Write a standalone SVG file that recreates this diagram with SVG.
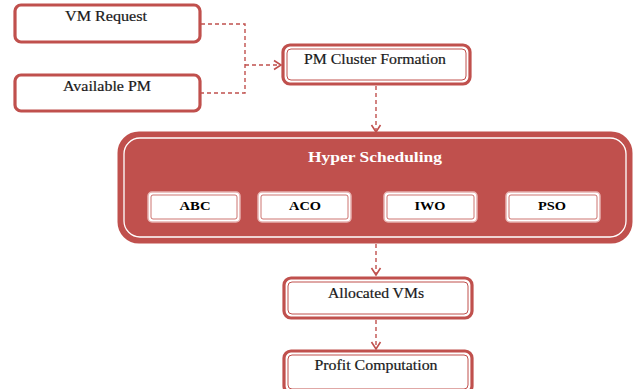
<svg xmlns="http://www.w3.org/2000/svg" width="637" height="389" viewBox="0 0 637 389">
<style>
.box{fill:#fff;stroke:#c0504d;stroke-width:3.2}
.inner{fill:none;stroke:#c0504d;stroke-width:1}
.lbl{font-family:"Liberation Serif","Times New Roman",serif;font-weight:normal;font-size:14px;fill:#1a1a1a;stroke:#1a1a1a;stroke-width:0.2;text-anchor:middle}
.slbl{font-family:"Liberation Serif","Times New Roman",serif;font-weight:bold;font-size:12.5px;fill:#000;text-anchor:middle}
.sub{fill:#fff;stroke:#e6b0ae;stroke-width:1.5}
.subin{fill:none;stroke:#c0504d;stroke-width:0.8}
.conn{fill:none;stroke:#c0504d;stroke-width:1.4;stroke-dasharray:4 3}
</style>
<defs>
<marker id="arr" markerWidth="12" markerHeight="12" refX="9" refY="6" orient="auto" markerUnits="userSpaceOnUse">
<polyline points="2,1.5 9,6 2,10.5" fill="none" stroke="#c0504d" stroke-width="1.6"/>
</marker>
</defs>
<g id="connectors">
<polyline class="conn" points="201,24 245,24 245,93 201,93"/>
<line class="conn" x1="245" y1="65" x2="281" y2="65" marker-end="url(#arr)"/>
<line class="conn" x1="376" y1="86" x2="376" y2="132" marker-end="url(#arr)"/>
<line class="conn" x1="376" y1="244" x2="376" y2="275" marker-end="url(#arr)"/>
<line class="conn" x1="376" y1="320" x2="376" y2="349" marker-end="url(#arr)"/>
</g>
<g id="vm-request">
<rect class="box" x="15" y="5" width="185" height="37" rx="6"/>
<text class="lbl" x="106" y="21" textLength="82" lengthAdjust="spacingAndGlyphs">VM Request</text>
</g>
<g id="available-pm">
<rect class="box" x="15" y="75" width="185" height="36" rx="6"/>
<text class="lbl" x="107" y="91" textLength="88" lengthAdjust="spacingAndGlyphs">Available PM</text>
</g>
<g id="pm-cluster">
<rect class="box" x="283" y="45" width="187" height="39" rx="7"/>
<rect class="inner" x="287" y="49" width="179" height="31" rx="4"/>
<text class="lbl" x="375" y="64" textLength="142" lengthAdjust="spacingAndGlyphs">PM Cluster Formation</text>
</g>
<g id="hyper-scheduling">
<rect x="119" y="133" width="512" height="109" rx="20" fill="#c0504d" stroke="#c0504d" stroke-width="3"/>
<rect x="124" y="138" width="502" height="99" rx="16" fill="none" stroke="#fff" stroke-width="1.3"/>
<text x="375" y="162" font-family="'Liberation Serif','Times New Roman',serif" font-weight="bold" font-size="15px" fill="#fff" text-anchor="middle" textLength="134" lengthAdjust="spacingAndGlyphs">Hyper Scheduling</text>
<g id="abc">
<rect class="sub" x="148" y="192" width="92" height="30" rx="4"/>
<rect class="subin" x="151" y="195" width="86" height="24" rx="2"/>
<text class="slbl" x="195" y="210" textLength="31" lengthAdjust="spacingAndGlyphs">ABC</text>
</g>
<g id="aco">
<rect class="sub" x="258" y="192" width="93" height="30" rx="4"/>
<rect class="subin" x="261" y="195" width="87" height="24" rx="2"/>
<text class="slbl" x="305" y="210" textLength="32" lengthAdjust="spacingAndGlyphs">ACO</text>
</g>
<g id="iwo">
<rect class="sub" x="384" y="192" width="93" height="30" rx="4"/>
<rect class="subin" x="387" y="195" width="87" height="24" rx="2"/>
<text class="slbl" x="430" y="210" textLength="31" lengthAdjust="spacingAndGlyphs">IWO</text>
</g>
<g id="pso">
<rect class="sub" x="506" y="192" width="94" height="30" rx="4"/>
<rect class="subin" x="509" y="195" width="88" height="24" rx="2"/>
<text class="slbl" x="552" y="210" textLength="28" lengthAdjust="spacingAndGlyphs">PSO</text>
</g>
</g>
<g id="allocated-vms">
<rect class="box" x="284" y="278" width="188" height="40" rx="7"/>
<rect class="inner" x="288" y="282" width="180" height="32" rx="4"/>
<text class="lbl" x="376" y="298" textLength="96" lengthAdjust="spacingAndGlyphs">Allocated VMs</text>
</g>
<g id="profit-computation">
<rect class="box" x="284" y="351" width="188" height="42" rx="7"/>
<rect class="inner" x="288" y="355" width="180" height="34" rx="4"/>
<text class="lbl" x="376" y="370" textLength="123" lengthAdjust="spacingAndGlyphs">Profit Computation</text>
</g>
</svg>
